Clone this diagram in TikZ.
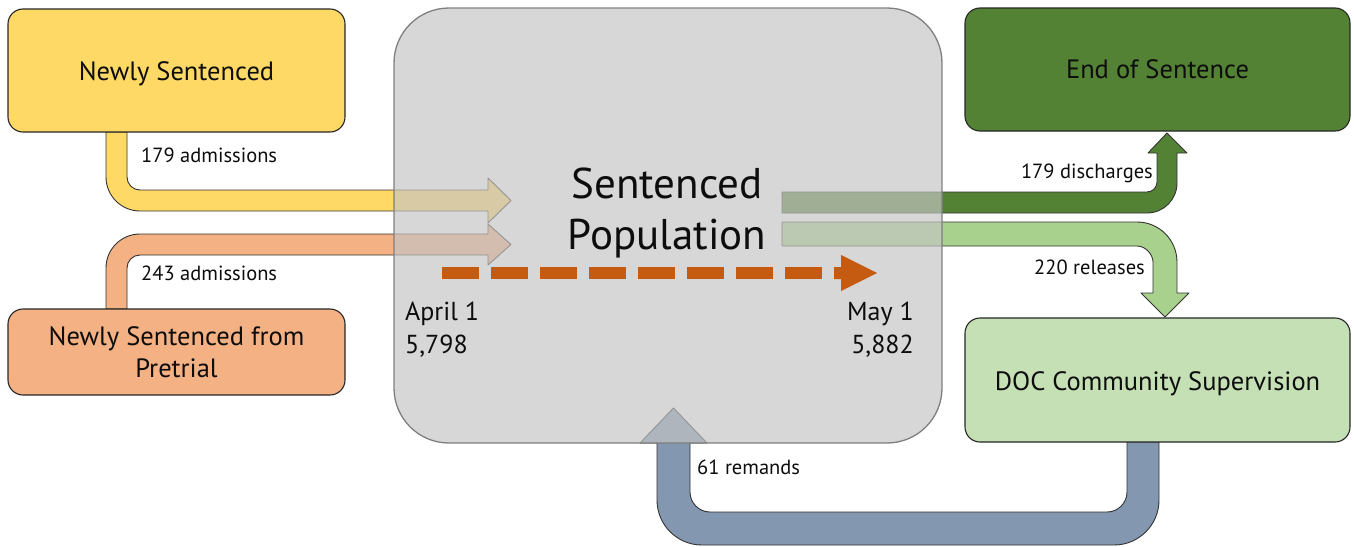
\documentclass[tikz,border=0pt]{standalone}
\usepackage{fontspec}
\setmainfont{PT Sans}
\definecolor{yel}{HTML}{FFD966}
\definecolor{sal}{HTML}{F4B183}
\definecolor{dgr}{HTML}{548235}
\definecolor{lgr}{HTML}{A9D18E}
\definecolor{lgbox}{HTML}{C5E0B4}
\definecolor{blu}{HTML}{8497B0}
\definecolor{org}{HTML}{C55A11}
\definecolor{gry}{HTML}{C4C4C4}
\definecolor{gryl}{HTML}{7F7F7F}
\definecolor{txt}{HTML}{0D0D0D}
\pgfdeclarelayer{bg}
\pgfsetlayers{bg,main}
\begin{document}
\begin{tikzpicture}[x=1pt,y=-1pt,
  box/.style={draw=black!85, line width=1.1pt, rounded corners=15pt, inner sep=0pt, text=txt,
    font=\fontsize{26.5}{32}\selectfont, align=center},
  band/.style={draw=black!80, line width=0.9pt, line join=round},
  lbl/.style={font=\fontsize{20.5}{22}\selectfont, text=txt, inner sep=0pt},
  big/.style={font=\fontsize{26}{33}\selectfont, text=txt, inner sep=0pt, align=left}]
\useasboundingbox (0,0) rectangle (1354,546);

% boxes
\node[box, fill=yel, minimum width=337pt, minimum height=123pt] (ns) at (176.5,70.5) {\raisebox{-9.5pt}[0pt][0pt]{Newly Sentenced}};
\node[box, fill=sal, minimum width=337pt, minimum height=86pt] (nsp) at (176.5,352) {Newly Sentenced from\\Pretrial};
\node[box, fill=dgr, minimum width=385pt, minimum height=123pt] (end) at (1157.5,69.5) {\raisebox{-8.5pt}[0pt][0pt]{End of Sentence}};
\node[box, fill=lgbox, minimum width=385pt, minimum height=124pt] (doc) at (1157.5,380) {\raisebox{-10pt}[0pt][0pt]{DOC Community Supervision}};

% central population box (semi transparent over the arrows)
\node[draw=gryl, fill=gry, fill opacity=0.67, rounded corners=55pt, line width=1.3pt,
      minimum width=548pt, minimum height=435pt, inner sep=0pt] (pop) at (668,225.5) {};

\begin{pgfonlayer}{bg}
% yellow: newly sentenced -> population
\filldraw[band, fill=yel] (106,132) -- (106,177) .. controls (106,195.8) and (121.2,211) .. (140,211)
  -- (488,211) -- (488,223) -- (511,200.5) -- (488,178) -- (488,190) -- (140,190)
  .. controls (132.8,190) and (127,184.2) .. (127,177) -- (127,132) -- cycle;
% salmon: pretrial -> population
\filldraw[band, fill=sal] (106,309) -- (106,268) .. controls (106,249.2) and (121.2,234) .. (140,234)
  -- (488,234) -- (488,224) -- (511,244.5) -- (488,265) -- (488,255) -- (140,255)
  .. controls (132.8,255) and (127,260.8) .. (127,268) -- (127,309) -- cycle;
% dark green: population -> end of sentence
\filldraw[band, fill=dgr] (782,192) -- (1147,192) .. controls (1152.5,192) and (1157,187.5) .. (1157,182)
  -- (1157,153) -- (1148,153) -- (1167,133) -- (1187,153) -- (1177,153) -- (1177,183)
  .. controls (1177,199.6) and (1163.6,213) .. (1147,213) -- (782,213) -- cycle;
% light green: population -> community supervision
\filldraw[band, fill=lgr] (782,222) -- (1137,222) .. controls (1159.1,222) and (1177,239.9) .. (1177,262)
  -- (1177,293) -- (1189,293) -- (1165,317) -- (1141,293) -- (1153,293) -- (1153,262)
  .. controls (1153,254.8) and (1145.8,246) .. (1137,246) -- (782,246) -- cycle;
% blue: community supervision -> population (remands)
\filldraw[band, fill=blu] (1127,442) -- (1127,492) .. controls (1127,503) and (1118,512) .. (1107,512)
  -- (710,512) .. controls (699,512) and (690,503) .. (690,492) -- (690,443) -- (707,443)
  -- (673.5,408) -- (640,443) -- (657,443) -- (657,500) .. controls (657,524.9) and (677.1,545) .. (702,545)
  -- (1114,545) .. controls (1138.9,545) and (1159,524.9) .. (1159,500) -- (1159,442) -- cycle;
\end{pgfonlayer}

% time arrow
\coordinate (d0) at (442,273);
\coordinate (d1) at (834,273);
\draw[org, line width=12pt, dash pattern=on 37pt off 12pt] (d0) -- (d1);
\fill[org] (834,267) -- (841,267) -- (841,255) -- (877,273) -- (841,291) -- (841,279) -- (834,279) -- cycle;

% texts in population box
\node[font=\fontsize{43}{51}\selectfont, text=txt, align=center, inner sep=0pt] (title) at (667,213) {Sentenced\\Population};
\node[big, anchor=west] (apr) at (405,330) {April 1\\5,798};
\node[big, anchor=east, align=right] (may) at (914,330) {May 1\\5,882};

% flow labels
\node[lbl, anchor=west] (l1) at (141,155) {179 admissions};
\node[lbl, anchor=west] (l2) at (141,273) {243 admissions};
\node[lbl, anchor=east] (l3) at (1153,173) {179 discharges};
\node[lbl, anchor=east] (l4) at (1145,267) {220 releases};
\node[lbl, anchor=west] (l5) at (697,467) {61 remands};
\end{tikzpicture}
\end{document}
